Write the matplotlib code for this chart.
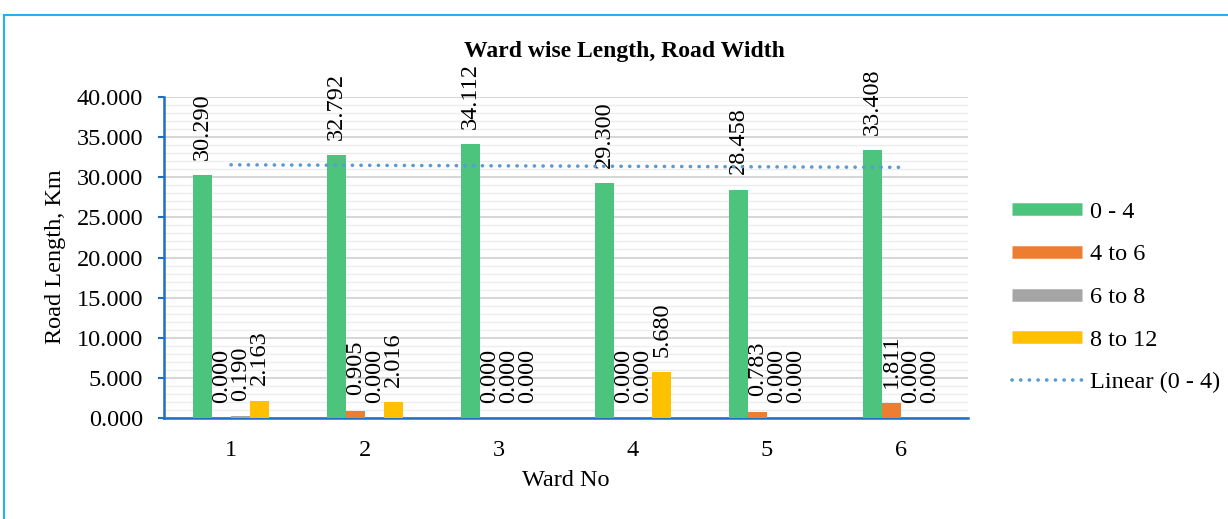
import numpy as np
import matplotlib
matplotlib.use("Agg")
import matplotlib.pyplot as plt
from matplotlib.lines import Line2D
from matplotlib.patches import Rectangle
from matplotlib.ticker import MultipleLocator, FormatStrFormatter

wards = ["1", "2", "3", "4", "5", "6"]
series_names = ["0 - 4", "4 to 6", "6 to 8", "8 to 12"]
w_0_4 = [30.290, 32.792, 34.112, 29.300, 28.458, 33.408]
w_4_6 = [0.000, 0.905, 0.000, 0.000, 0.783, 1.811]
w_6_8 = [0.190, 0.000, 0.000, 0.000, 0.000, 0.000]
w_8_12 = [2.163, 2.016, 0.000, 5.680, 0.000, 0.000]
colors = ["#4CC47E", "#ED7D31", "#A5A5A5", "#FFC000"]
trend_color = "#5B9BD5"
spine_color = "#1F6FC5"

plt.rcParams["font.family"] = ["Liberation Serif", "DejaVu Serif"]

fig = plt.figure(figsize=(12.28, 5.19), dpi=100)
ax = fig.add_axes([164 / 1228, 1 - 418 / 519, 804 / 1228, 321 / 519])

x = np.arange(1, len(wards) + 1)
bw = 0.1418
all_series = [w_0_4, w_4_6, w_6_8, w_8_12]
for i, (vals, c) in enumerate(zip(all_series, colors)):
    pos = x + (i - 1.5) * bw
    ax.bar(pos, vals, width=bw, color=c, zorder=3)
    for px, v in zip(pos, vals):
        ax.annotate("{:.3f}".format(v), (px, v), xytext=(0, 11),
                    textcoords="offset points", rotation=90,
                    ha="center", va="bottom", fontsize=17.5, zorder=4)

# linear trendline of the 0 - 4 series
coef = np.polyfit(x, w_0_4, 1)
trend_style = dict(color=trend_color, lw=2.6, linestyle=(0, (0.05, 2.35)),
                   dash_capstyle="round")
ax.plot(x, np.polyval(coef, x), zorder=4, **trend_style)

ax.set_xlim(0.5, 6.5)
ax.set_ylim(0, 40)
ax.yaxis.set_major_locator(MultipleLocator(5))
ax.yaxis.set_minor_locator(MultipleLocator(1))
ax.yaxis.set_major_formatter(FormatStrFormatter("%.3f"))
ax.grid(axis="y", which="major", color="#D0D0D0", lw=1.2, zorder=0)
ax.grid(axis="y", which="minor", color="#EDEDED", lw=1.0, zorder=0)
ax.set_xticks(x)
ax.set_xticklabels(wards)
ax.tick_params(axis="x", length=0, pad=16, labelsize=17.5)
ax.tick_params(axis="y", which="major", length=4, width=1.5, color=spine_color,
               pad=11, labelsize=17.5)
ax.tick_params(axis="y", which="minor", length=0)
for s in ["top", "right"]:
    ax.spines[s].set_visible(False)
for s in ["left", "bottom"]:
    ax.spines[s].set_color(spine_color)
    ax.spines[s].set_linewidth(1.8)

fig.text(624 / 1228, 1 - 51 / 519, "Ward wise Length, Road Width",
         ha="center", va="center", fontsize=17, fontweight="bold")
fig.text(56 / 1228, 1 - 257 / 519, "Road Length, Km", rotation=90,
         ha="center", va="center", fontsize=17.5)
fig.text(566 / 1228, 1 - 481 / 519, "Ward No", ha="center", va="center",
         fontsize=17.5)

handles = [Line2D([], [], color=c, lw=9, solid_capstyle="butt") for c in colors]
handles.append(Line2D([], [], **trend_style))
labels = series_names + ["Linear (0 - 4)"]
fig.legend(handles, labels, loc="center left",
           bbox_to_anchor=(990 / 1228, 1 - 297 / 519), frameon=False,
           fontsize=17.5, handlelength=2.9, handletextpad=0.3, labelspacing=0.85)

fig.patches.append(Rectangle((4 / 1228, -0.1), 1.2, 1.1 - 15 / 519,
                             transform=fig.transFigure, fill=False,
                             edgecolor="#1FB4EC", lw=1.5))

fig.savefig("out.png", dpi=100)
